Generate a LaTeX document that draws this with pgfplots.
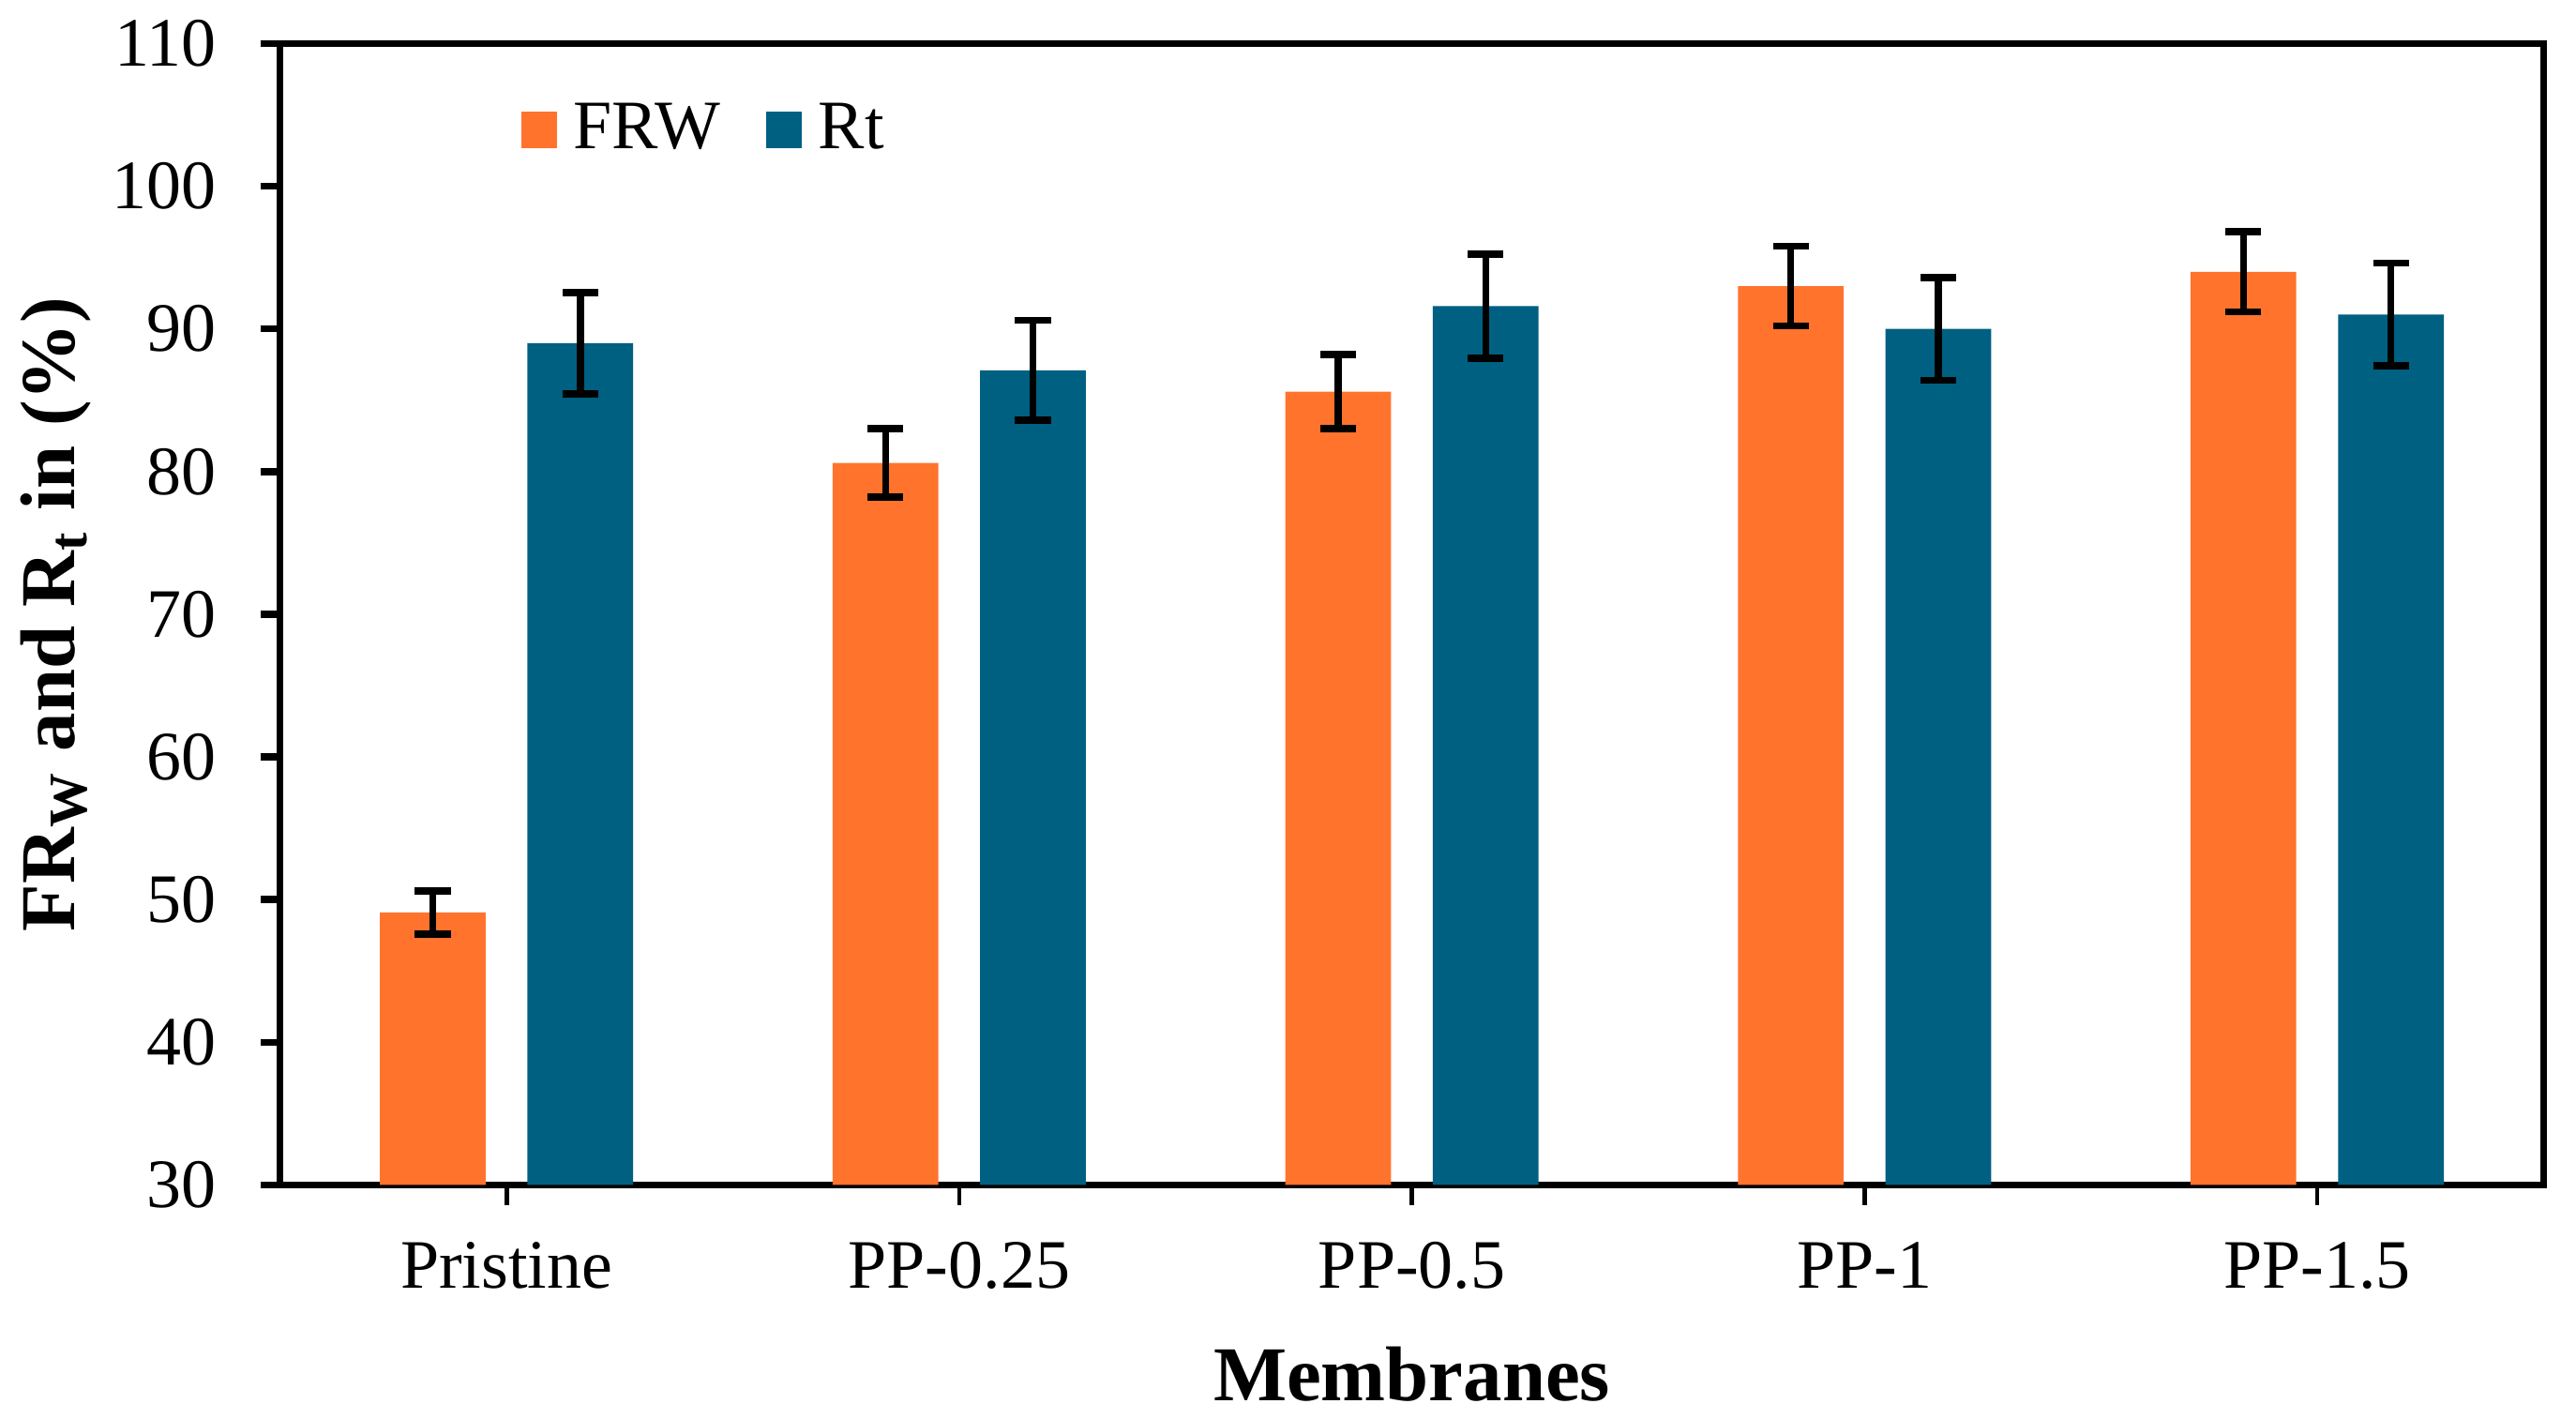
\documentclass[border=0pt]{standalone}
\usepackage{pgfplots}
\usepackage{pgfplotstable}
\pgfplotsset{compat=1.18}
\usepackage{fontspec}
\setmainfont{Liberation Serif}
\definecolor{frw}{RGB}{255,115,45}
\definecolor{rt}{RGB}{0,96,130}
\pgfplotstableread{
x frw frwerr rt rterr
0 49.1 1.5 89.0 3.55
1 80.6 2.4 87.1 3.5
2 85.6 2.6 91.6 3.65
3 93.0 2.8 90.0 3.6
4 94.0 2.8 91.0 3.6
}\datatable
\begin{document}
\begin{tikzpicture}
\begin{axis}[
  scale only axis,
  width=411.1pt, height=207.3pt,
  xmin=-0.5, xmax=4.5,
  ymin=30, ymax=110,
  ytick={30,40,...,110},
  xtick={0,1,2,3,4},
  xticklabels={Pristine,PP-0.25,PP-0.5,PP-1,PP-1.5},
  xtick pos=bottom, ytick pos=left,
  tick align=outside,
  major tick length=3.6pt,
  axis line style={line width=1.25pt},
  ytick style={line width=1.3pt, black},
  xtick style={line width=0.8pt, black},
  /pgf/number format/assume math mode=true,
  ticklabel style={font=\fontsize{12.6}{15}\selectfont},
  yticklabel style={anchor=east, inner sep=0pt, xshift=-7.8pt},
  xticklabel style={anchor=base, yshift=-15.15pt},
  xlabel={Membranes},
  ylabel={FR\textsubscript{W} and R\textsubscript{t} in (\%)},
  label style={font=\fontsize{14.1}{17}\selectfont\bfseries},
  ylabel style={at={(axis description cs:-0.0907,0.5)}, anchor=base},
  xlabel style={at={(axis description cs:0.5,-0.1889)}, anchor=base},
  ybar, bar width=19.2pt,
  legend columns=2,
  legend cell align=left,
  legend style={at={(axis description cs:0.1065,0.9243)}, anchor=west,
    draw=none, fill=none, inner sep=0pt, outer sep=0pt,
    font=\fontsize{12.6}{15}\selectfont,
    nodes={inner sep=0pt},
    /tikz/every odd column/.append style={column sep=3pt},
    /tikz/every even column/.append style={column sep=8.4pt}},
  legend image code/.code={\fill[#1] (0pt,-3.25pt) rectangle (6.5pt,3.25pt);},
]
\addplot[fill=frw, draw=none, bar shift=-13.4pt,
  error bars/.cd, y dir=both, y explicit,
  error bar style={line width=1.25pt, black},
  error mark options={rotate=90, mark size=3.25pt, line width=1.3pt, black}]
  table[x=x, y=frw, y error=frwerr] {\datatable};
\addlegendentry{FRW}
\addplot[fill=rt, draw=none, bar shift=13.4pt,
  error bars/.cd, y dir=both, y explicit,
  error bar style={line width=1.25pt, black},
  error mark options={rotate=90, mark size=3.25pt, line width=1.3pt, black}]
  table[x=x, y=rt, y error=rterr] {\datatable};
\addlegendentry{Rt}
\end{axis}
\pgfresetboundingbox
\path[use as bounding box] ([xshift=-50.9pt,yshift=-42.5pt]current axis.south west) rectangle ([xshift=5.9pt,yshift=7.9pt]current axis.north east);
\end{tikzpicture}
\end{document}
